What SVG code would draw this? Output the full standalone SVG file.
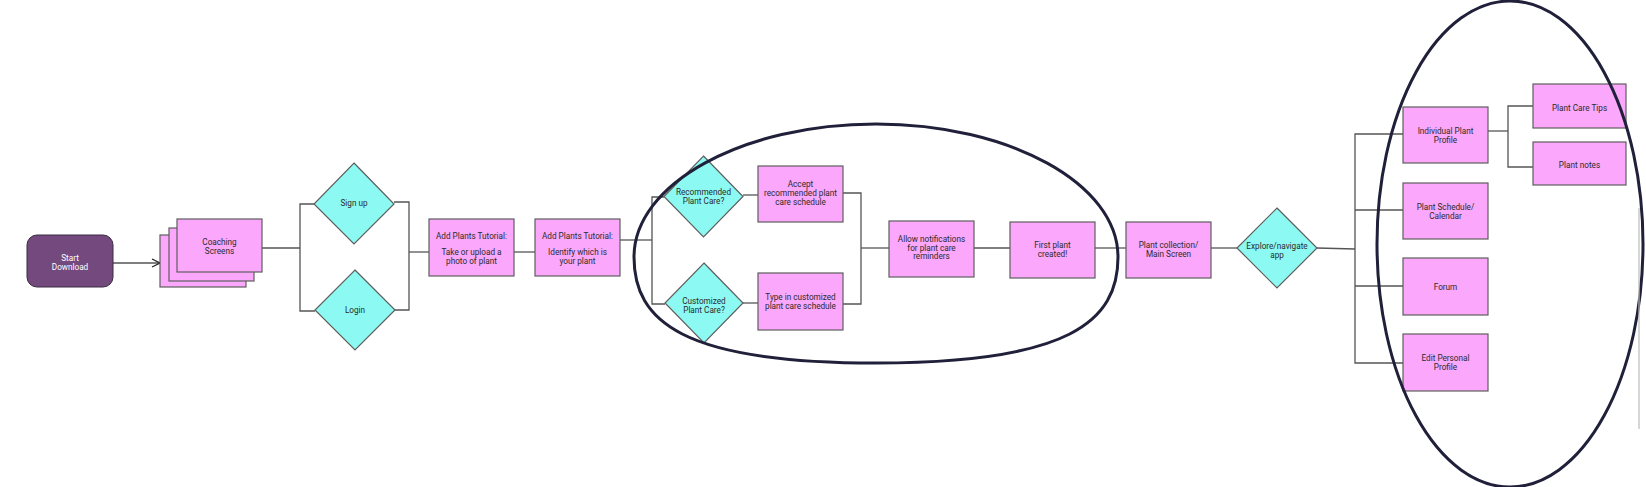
<svg xmlns="http://www.w3.org/2000/svg" width="1646" height="487" viewBox="0 0 1646 487">
<defs>
<style>
.box{fill:#faa7fc;stroke:#5e5e5e;stroke-width:1.2}
.dia{fill:#8cfaf2;stroke:#5e5e5e;stroke-width:1.2}
.t{font-family:Roboto,"Liberation Sans",sans-serif;font-size:8.2px;fill:#2b2b2b;text-anchor:middle}
.tw{font-family:Roboto,"Liberation Sans",sans-serif;font-size:8.2px;fill:#ffffff;text-anchor:middle}
.c{fill:none;stroke:#555555;stroke-width:1.3}
.ring{fill:none;stroke:#20203a;stroke-width:3}
</style>
<marker id="arr" viewBox="0 0 10 10" refX="9" refY="5" markerWidth="10" markerHeight="10" markerUnits="userSpaceOnUse" orient="auto">
<path d="M1,1 L9,5 L1,9" fill="none" stroke="#222" stroke-width="1.3"/>
</marker>
</defs>
<rect width="1646" height="487" fill="#ffffff"/>

<g id="connectors">
<line class="c" x1="113" y1="263" x2="160" y2="263" stroke="#222" marker-end="url(#arr)"/>
<polyline class="c" points="262,248 300,248"/>
<polyline class="c" points="314,204 300,204 300,311 315,311"/>
<polyline class="c" points="394,202 409,202 409,310 395,310"/>
<line class="c" x1="409" y1="252" x2="429" y2="252"/>
<line class="c" x1="514" y1="252" x2="535" y2="252"/>
<polyline class="c" points="620,240 652,240"/>
<polyline class="c" points="664,197 652,197 652,304 665,304"/>
<line class="c" x1="743" y1="195" x2="758" y2="195"/>
<line class="c" x1="743" y1="303" x2="758" y2="303"/>
<polyline class="c" points="843,193 861,193 861,304 843,304"/>
<line class="c" x1="861" y1="248" x2="889" y2="248"/>
<line class="c" x1="974" y1="248" x2="1010" y2="248"/>
<line class="c" x1="1095" y1="248" x2="1126" y2="248"/>
<line class="c" x1="1211" y1="248" x2="1237" y2="248"/>
<polyline class="c" points="1317,248 1355,249"/>
<polyline class="c" points="1403,134 1355,134 1355,363 1403,363"/>
<line class="c" x1="1355" y1="210" x2="1403" y2="210"/>
<line class="c" x1="1355" y1="286" x2="1403" y2="286"/>
<line class="c" x1="1488" y1="131" x2="1508" y2="131"/>
<polyline class="c" points="1533,106 1508,106 1508,167 1533,167"/>
</g>

<g id="start">
<rect x="27" y="235" width="86" height="52" rx="10" fill="#744a7e" stroke="#3a2a40" stroke-width="1"/>
<text class="tw" x="70" y="261">Start</text>
<text class="tw" x="70" y="270">Download</text>
</g>

<g id="coaching">
<rect class="box" x="160" y="235" width="86" height="52"/>
<rect class="box" x="169" y="228" width="85" height="53"/>
<rect class="box" x="177" y="219" width="85" height="53"/>
<text class="t" x="219.5" y="245">Coaching</text>
<text class="t" x="219.5" y="254">Screens</text>
</g>

<g id="signup">
<polygon class="dia" points="354,163 394,204 354,244 314,204"/>
<text class="t" x="354" y="206">Sign up</text>
</g>

<g id="login">
<polygon class="dia" points="355,270 395,310 355,350 315,310"/>
<text class="t" x="355" y="313">Login</text>
</g>

<g id="tutorial1">
<rect class="box" x="429" y="219" width="85" height="57"/>
<text class="t" x="471.5" y="239">Add Plants Tutorial:</text>
<text class="t" x="471.5" y="255">Take or upload a</text>
<text class="t" x="471.5" y="264">photo of plant</text>
</g>

<g id="tutorial2">
<rect class="box" x="535" y="219" width="85" height="57"/>
<text class="t" x="577.5" y="239">Add Plants Tutorial:</text>
<text class="t" x="577.5" y="255">Identify which is</text>
<text class="t" x="577.5" y="264">your plant</text>
</g>

<g id="recommended">
<polygon class="dia" points="703.5,156 743,196.5 703.5,237 664,196.5"/>
<text class="t" x="703.5" y="195">Recommended</text>
<text class="t" x="703.5" y="204">Plant Care?</text>
</g>

<g id="customized">
<polygon class="dia" points="704,263 743,303 704,343 665,303"/>
<text class="t" x="704" y="304">Customized</text>
<text class="t" x="704" y="313">Plant Care?</text>
</g>

<g id="accept">
<rect class="box" x="758" y="166" width="85" height="56"/>
<text class="t" x="800.5" y="187">Accept</text>
<text class="t" x="800.5" y="196">recommended plant</text>
<text class="t" x="800.5" y="205">care schedule</text>
</g>

<g id="typein">
<rect class="box" x="758" y="273" width="85" height="57"/>
<text class="t" x="800.5" y="300">Type in customized</text>
<text class="t" x="800.5" y="309">plant care schedule</text>
</g>

<g id="notifications">
<rect class="box" x="889" y="221" width="85" height="56"/>
<text class="t" x="931.5" y="242">Allow notifications</text>
<text class="t" x="931.5" y="251">for plant care</text>
<text class="t" x="931.5" y="259">reminders</text>
</g>

<g id="firstplant">
<rect class="box" x="1010" y="222" width="85" height="56"/>
<text class="t" x="1052.5" y="248">First plant</text>
<text class="t" x="1052.5" y="257">created!</text>
</g>

<g id="collection">
<rect class="box" x="1126" y="222" width="85" height="56"/>
<text class="t" x="1168.5" y="248">Plant collection/</text>
<text class="t" x="1168.5" y="257">Main Screen</text>
</g>

<g id="explore">
<polygon class="dia" points="1277,208 1317,248 1277,288 1237,248"/>
<text class="t" x="1277" y="249">Explore/navigate</text>
<text class="t" x="1277" y="258">app</text>
</g>

<g id="individual">
<rect class="box" x="1403" y="107" width="85" height="56"/>
<text class="t" x="1445.5" y="134">Individual Plant</text>
<text class="t" x="1445.5" y="143">Profile</text>
</g>

<g id="schedule">
<rect class="box" x="1403" y="183" width="85" height="56"/>
<text class="t" x="1445.5" y="210">Plant Schedule/</text>
<text class="t" x="1445.5" y="219">Calendar</text>
</g>

<g id="forum">
<rect class="box" x="1403" y="258" width="85" height="57"/>
<text class="t" x="1445.5" y="290">Forum</text>
</g>

<g id="editprofile">
<rect class="box" x="1403" y="334" width="85" height="57"/>
<text class="t" x="1445.5" y="361">Edit Personal</text>
<text class="t" x="1445.5" y="370">Profile</text>
</g>

<g id="caretips">
<rect class="box" x="1533" y="84" width="93" height="44"/>
<text class="t" x="1579.5" y="111">Plant Care Tips</text>
</g>

<g id="notes">
<rect class="box" x="1533" y="142" width="93" height="43"/>
<text class="t" x="1579.5" y="168">Plant notes</text>
</g>

<g id="highlights">
<path class="ring" d="M634,257 C634,184 742,124 876,124 C1010,124 1118,184 1118,257 C1118,321 1070,363 876,363 C682,363 634,321 634,257 Z"/>
<ellipse class="ring" cx="1510" cy="244" rx="133" ry="243"/>
<line x1="1639" y1="208" x2="1639" y2="429" stroke="#bbbbbb" stroke-width="1.2"/>
</g>
</svg>
